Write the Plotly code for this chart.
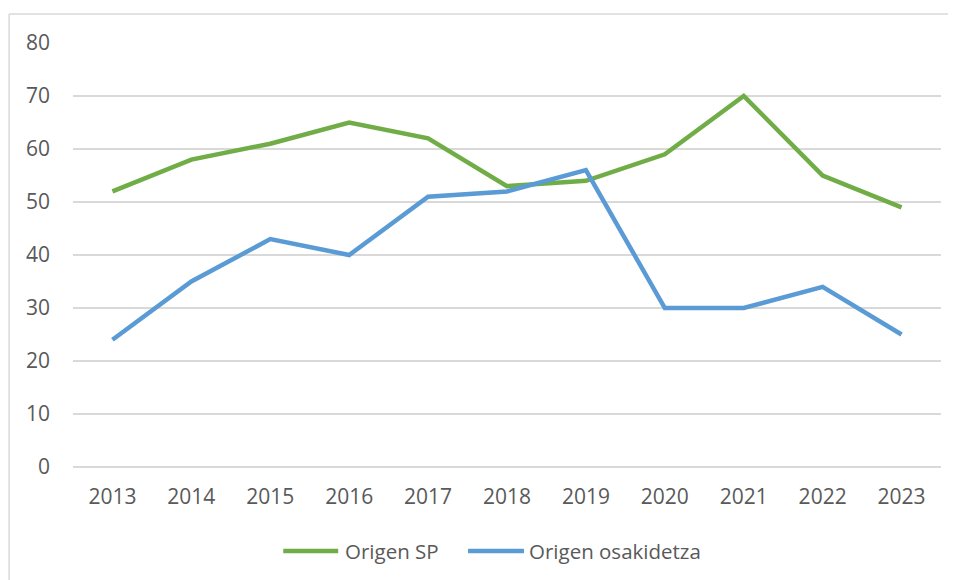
import plotly.graph_objects as go

years = ["2013", "2014", "2015", "2016", "2017", "2018", "2019", "2020", "2021", "2022", "2023"]
origen_sp = [52, 58, 61, 65, 62, 53, 54, 59, 70, 55, 49]
origen_osakidetza = [24, 35, 43, 40, 51, 52, 56, 30, 30, 34, 25]
y_ticks = [0, 10, 20, 30, 40, 50, 60, 70, 80]
series_names = ["Origen SP", "Origen osakidetza"]
series_colors = ["#70AD47", "#5B9BD5"]

FONT = "Open Sans"
TXT = "#595959"
GRID = "#D9D9D9"

# the page body has an 8px margin, so the figure is 8px smaller than the window
W, H = 948, 572
L, R, T, B = 64.5, 14.5, 35, 113
pw = W - L - R
ph = H - T - B


def px_x(p):
    return (p - L) / pw


def px_y(p):
    return (H - B - p) / ph


fig = go.Figure()
for name, vals, col in zip(series_names, [origen_sp, origen_osakidetza], series_colors):
    fig.add_trace(go.Scatter(x=years, y=vals, mode="lines", name=name,
                             line=dict(color=col, width=4.5), showlegend=False))

# manual legend (long line samples as in the reference)
legend_y = 543
legend_items = [(275, 330, 335), (460, 516, 519)]
shapes = [
    dict(type="line", xref="paper", yref="paper", x0=px_x(0.5), x1=px_x(0.5), y0=px_y(6), y1=px_y(700),
         line=dict(color=GRID, width=1.5)),
    dict(type="line", xref="paper", yref="paper", x0=px_x(0.5), x1=px_x(1100), y0=px_y(6), y1=px_y(6),
         line=dict(color=GRID, width=1.5)),
]
annotations = []
for (x0, x1, xt), name, col in zip(legend_items, series_names, series_colors):
    shapes.append(dict(type="line", xref="paper", yref="paper", x0=px_x(x0), x1=px_x(x1),
                       y0=px_y(legend_y), y1=px_y(legend_y), line=dict(color=col, width=4.5)))
    annotations.append(dict(text=name, xref="paper", yref="paper", x=px_x(xt), y=px_y(legend_y),
                            xanchor="left", yanchor="middle", showarrow=False,
                            font=dict(family=FONT, size=20.5, color=TXT)))

fig.update_layout(
    width=W, height=H,
    margin=dict(l=L, r=R, t=T, b=B, pad=0),
    paper_bgcolor="white", plot_bgcolor="white",
    font=dict(family=FONT, size=21, color=TXT),
    showlegend=False,
    xaxis=dict(type="category", range=[-0.5, 10.5], showgrid=False, showline=False, zeroline=False,
               ticks="", tickfont=dict(family=FONT, size=21, color=TXT), ticklabelstandoff=15),
    yaxis=dict(range=[0, 80], tickvals=y_ticks, showgrid=True, gridcolor=GRID, gridwidth=1.5,
               zeroline=True, zerolinecolor=GRID, zerolinewidth=1.5, showline=False, ticks="",
               tickfont=dict(family=FONT, size=21, color=TXT), ticklabelstandoff=22),
    shapes=shapes,
    annotations=annotations,
)

fig.write_html("out.html")
